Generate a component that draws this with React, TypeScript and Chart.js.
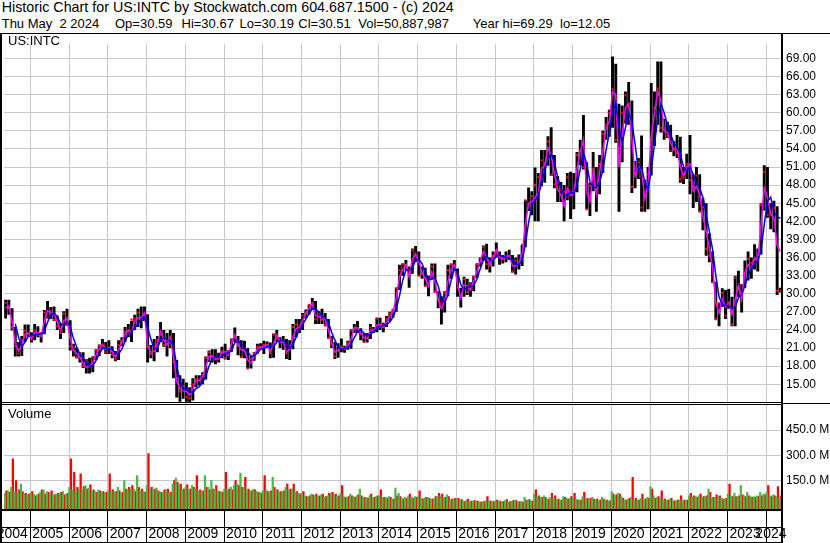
import React, { useEffect, useRef } from 'react';
import { Chart, registerables } from 'chart.js';

Chart.register(...registerables);

const FONT = '"Liberation Sans", Arial, Helvetica, sans-serif';
const GRID = '#c8c8c8';

// Monthly categories, May 2004 .. May 2024
const firstYear = 2004;
const firstMonth = 5;
const monthCount = 241;
const months: string[] = [];
for (let k = 0; k < monthCount; k++) {
  const t = firstMonth - 1 + k;
  const y = firstYear + Math.floor(t / 12);
  const m = (t % 12) + 1;
  months.push(`${y}-${String(m).padStart(2, '0')}`);
}

// Monthly low / high of the daily bars (USD)
const lows = [
  25.9, 26.5, 23.9, 19.6, 19.6, 19.7, 22.0, 22.9,
  21.9, 22.3, 22.8, 21.9, 23.3, 25.9, 25.8, 25.5, 24.0, 22.5, 23.5, 24.7,
  20.6, 19.6, 19.3, 18.6, 17.7, 16.8, 16.8, 17.0, 19.0, 19.7, 20.8, 20.0,
  20.0, 19.3, 18.8, 19.0, 21.3, 22.0, 22.8, 22.0, 24.0, 24.5, 24.3, 25.5,
  18.6, 19.3, 18.8, 20.3, 22.0, 21.2, 19.6, 21.0, 16.0, 12.8, 12.1, 12.6,
  12.1, 12.05, 12.3, 14.5, 14.8, 15.0, 15.8, 18.7, 18.6, 18.3, 18.6, 19.3,
  19.1, 19.0, 20.4, 22.0, 19.8, 19.4, 19.3, 17.6, 17.6, 18.9, 20.1, 20.9,
  20.0, 21.0, 19.3, 19.4, 22.0, 21.0, 20.7, 19.2, 19.0, 20.8, 22.8, 23.5,
  24.0, 25.9, 26.5, 27.3, 25.0, 25.0, 25.0, 24.6, 22.6, 21.0, 19.2, 19.4,
  20.3, 20.2, 20.7, 20.9, 23.5, 23.5, 22.3, 21.9, 21.9, 22.5, 23.5, 23.6,
  24.0, 23.6, 24.5, 25.4, 26.0, 27.0, 30.6, 33.0, 33.9, 31.0, 33.3, 35.3,
  33.0, 32.5, 31.2, 29.6, 32.3, 30.2, 27.6, 24.9, 26.9, 29.6, 32.5, 33.9,
  29.5, 27.7, 29.5, 29.8, 29.5, 30.4, 32.6, 34.5, 35.5, 34.0, 33.5, 34.5,
  36.0, 34.8, 35.0, 35.2, 35.6, 33.5, 33.2, 34.0, 34.6, 37.7, 43.7, 43.0,
  42.0, 42.0, 47.8, 48.4, 51.2, 49.5, 47.5, 45.2, 45.2, 42.0, 45.5, 42.4,
  44.0, 46.8, 51.3, 50.6, 44.0, 42.9, 47.0, 43.6, 46.5, 50.0, 55.5, 56.0,
  57.5, 55.0, 43.6, 51.8, 58.2, 58.0, 46.7, 47.5, 49.0, 43.6, 43.6, 44.0,
  49.6, 54.5, 58.0, 56.7, 55.5, 55.8, 53.5, 52.8, 52.5, 48.4, 48.2, 49.0,
  46.5, 44.2, 45.2, 43.6, 40.5, 36.3, 35.2, 31.8, 25.7, 24.6, 27.8, 25.8,
  27.5, 24.6, 24.6, 29.5, 26.9, 31.0, 32.2, 32.5, 34.0, 33.7, 36.5, 43.8,
  42.6, 40.7, 40.2, 29.8, 30.2,
];
const highs = [
  29.0, 29.0, 27.6, 24.5, 22.0, 23.0, 24.9, 24.9,
  23.6, 25.0, 24.6, 23.6, 27.3, 28.8, 27.8, 27.9, 26.4, 25.1, 27.1, 27.5,
  25.6, 21.7, 21.1, 20.3, 20.3, 19.2, 19.4, 19.6, 20.8, 21.6, 22.5, 22.0,
  22.3, 21.3, 20.5, 22.3, 22.8, 24.5, 25.0, 25.5, 26.5, 27.5, 27.9, 27.9,
  26.6, 21.5, 22.5, 23.0, 25.3, 24.0, 23.5, 24.0, 23.5, 19.0, 16.5, 15.9,
  15.3, 14.5, 16.0, 16.5, 16.5, 17.0, 19.6, 20.6, 20.8, 20.8, 20.2, 21.2,
  21.7, 20.6, 22.6, 24.4, 23.0, 22.3, 22.2, 21.0, 19.7, 20.3, 21.7, 21.8,
  22.2, 22.1, 21.9, 23.4, 24.0, 22.8, 23.0, 22.5, 22.3, 25.0, 25.8, 25.8,
  26.8, 27.4, 28.2, 29.3, 28.8, 27.1, 27.5, 26.8, 25.8, 23.0, 22.0, 21.8,
  22.6, 21.4, 22.2, 24.1, 25.0, 25.5, 24.3, 23.5, 23.5, 25.0, 24.5, 26.0,
  26.0, 25.2, 26.3, 27.0, 27.5, 31.0, 34.8, 35.0, 35.6, 34.5, 37.5, 37.9,
  37.0, 34.5, 34.3, 33.0, 35.0, 35.0, 30.4, 29.6, 30.4, 34.8, 35.0, 35.6,
  34.2, 31.0, 32.8, 32.5, 31.9, 33.0, 35.0, 36.0, 38.0, 38.3, 36.0, 37.0,
  38.5, 37.0, 36.4, 37.0, 37.3, 36.4, 36.0, 36.5, 38.1, 45.5, 47.6, 47.0,
  50.9, 50.0, 53.8, 53.8, 56.1, 57.6, 53.0, 49.5, 48.5, 48.0, 50.0, 50.2,
  50.0, 53.5, 55.5, 59.6, 51.8, 48.4, 53.5, 51.0, 53.0, 57.0, 59.3, 60.5,
  69.3, 68.1, 61.5, 61.2, 63.5, 65.1, 62.0, 52.0, 52.5, 56.2, 48.9, 51.0,
  64.9, 63.5, 68.5, 68.5, 59.0, 58.5, 58.0, 55.3, 56.3, 56.0, 51.0, 53.2,
  56.3, 49.8, 51.0, 49.8, 45.8, 45.0, 40.0, 37.0, 32.0, 28.5, 30.9, 30.6,
  30.8, 29.5, 33.0, 33.8, 31.6, 35.5, 37.0, 36.0, 38.2, 37.5, 45.0, 51.3,
  51.0, 45.0, 45.4, 44.5, 31.0,
];
const closes = [
  28.5, 27.6, 24.4, 21.3, 20.1, 22.3, 23.9, 23.4,
  22.4, 24.0, 23.2, 23.5, 26.9, 26.0, 27.1, 25.7, 24.6, 23.5, 26.7, 25.0,
  21.3, 20.6, 19.5, 20.0, 18.0, 19.0, 18.0, 19.5, 20.6, 21.3, 21.4, 20.3,
  21.0, 19.9, 19.1, 21.5, 22.2, 23.7, 23.6, 25.7, 25.9, 26.9, 26.0, 26.7,
  21.2, 20.0, 21.2, 22.3, 23.2, 21.5, 22.2, 22.9, 18.7, 16.0, 13.8, 14.7,
  12.9, 12.7, 15.0, 15.8, 15.7, 16.5, 19.3, 20.3, 19.6, 19.1, 19.2, 20.4,
  19.4, 20.5, 22.3, 22.8, 21.4, 19.5, 20.6, 17.6, 19.2, 20.1, 21.2, 21.0,
  21.5, 21.5, 20.2, 23.2, 22.5, 22.2, 22.3, 20.1, 21.3, 24.5, 24.9, 24.2,
  26.4, 26.9, 28.1, 28.4, 25.8, 26.7, 25.7, 24.8, 22.7, 21.6, 19.6, 20.6,
  21.0, 20.8, 21.8, 23.9, 24.3, 24.2, 23.3, 22.0, 22.9, 24.4, 23.8, 25.9,
  24.5, 24.8, 25.8, 26.7, 27.3, 30.9, 33.9, 34.9, 34.8, 34.0, 37.2, 36.3,
  33.0, 33.3, 31.3, 32.5, 34.5, 30.4, 29.0, 28.5, 30.1, 33.9, 34.8, 34.5,
  31.0, 29.6, 32.4, 30.3, 31.6, 32.8, 34.9, 35.9, 37.7, 34.9, 34.7, 36.3,
  36.8, 36.2, 36.1, 36.2, 36.1, 33.7, 35.5, 35.1, 38.1, 45.5, 44.8, 46.2,
  48.0, 49.3, 52.1, 51.6, 55.2, 49.7, 48.1, 48.4, 47.3, 46.9, 49.3, 46.9,
  47.1, 53.0, 53.7, 51.0, 44.0, 47.9, 50.6, 47.4, 51.5, 56.5, 58.0, 59.9,
  63.9, 55.5, 54.1, 60.0, 62.9, 59.8, 47.7, 50.9, 51.8, 44.3, 48.4, 49.8,
  55.5, 60.8, 64.0, 57.5, 57.1, 56.1, 53.7, 54.1, 53.3, 49.0, 49.2, 51.5,
  48.8, 47.7, 49.6, 43.6, 44.4, 37.4, 36.3, 31.9, 25.8, 28.4, 30.1, 26.4,
  28.3, 24.9, 32.7, 31.1, 31.4, 33.4, 35.8, 35.1, 35.6, 36.5, 44.7, 50.2,
  43.1, 43.0, 44.2, 30.5, 30.5,
];
// 20-day (magenta) and 50-day (blue) moving averages
const ma20 = [
  27.6, 28.0, 25.5, 21.8, 20.5, 21.5, 23.3, 23.5,
  22.6, 23.6, 23.6, 22.9, 25.5, 27.2, 26.8, 26.7, 25.3, 23.9, 25.5, 26.0,
  22.5, 20.7, 20.1, 19.5, 18.5, 17.8, 18.0, 18.6, 19.9, 20.8, 21.6, 20.8,
  21.1, 20.4, 19.5, 20.6, 22.0, 23.3, 24.0, 23.6, 25.4, 26.0, 26.0, 26.8,
  21.3, 20.3, 20.4, 21.8, 23.8, 22.3, 21.5, 22.6, 19.5, 15.5, 14.2, 13.9,
  13.8, 13.2, 14.3, 15.6, 15.6, 16.2, 18.0, 19.6, 19.7, 19.2, 19.3, 20.2,
  20.4, 19.8, 21.8, 23.2, 21.5, 20.7, 20.6, 19.0, 18.5, 19.6, 21.0, 21.2,
  21.2, 21.6, 20.4, 21.6, 23.2, 22.0, 22.0, 20.3, 20.7, 22.8, 24.2, 24.5,
  25.5, 26.7, 27.6, 28.3, 26.4, 26.2, 26.2, 25.7, 24.0, 21.8, 20.3, 20.6,
  21.2, 20.9, 21.4, 22.5, 24.3, 24.4, 23.6, 22.7, 22.6, 24.0, 24.0, 24.8,
  25.0, 24.4, 25.3, 26.2, 27.0, 29.3, 32.8, 34.0, 34.8, 32.8, 35.7, 36.6,
  35.3, 33.5, 32.5, 31.3, 33.6, 32.0, 29.0, 27.5, 28.7, 32.0, 34.1, 34.8,
  31.5, 29.3, 31.5, 31.3, 30.6, 32.0, 33.8, 35.4, 37.0, 36.0, 34.7, 36.0,
  37.3, 36.0, 35.7, 36.1, 36.3, 34.6, 34.6, 35.2, 36.5, 41.5, 45.0, 45.2,
  46.0, 46.5, 50.8, 51.2, 54.2, 53.0, 49.8, 47.3, 46.4, 44.5, 47.5, 46.3,
  46.6, 50.7, 53.5, 55.5, 46.8, 45.3, 50.3, 46.5, 50.2, 53.6, 57.5, 58.5,
  63.5, 63.0, 51.0, 56.5, 60.8, 61.5, 55.5, 49.5, 51.0, 50.5, 45.8, 48.2,
  56.0, 60.0, 63.5, 62.0, 57.0, 56.7, 55.0, 53.8, 54.0, 51.0, 49.5, 51.0,
  51.5, 47.0, 47.8, 46.5, 42.8, 40.3, 37.5, 34.3, 28.5, 26.8, 29.2, 27.8,
  28.6, 26.6, 29.0, 31.3, 29.0, 33.5, 34.8, 34.2, 36.0, 35.5, 41.5, 47.5,
  46.0, 43.3, 42.5, 38.0, 37.0,
];
const ma50 = [
  null, null, null, 25.0, 22.8, 21.2, 22.0, 22.9,
  23.1, 23.2, 23.3, 23.3, 23.8, 25.3, 26.5, 26.8, 26.2, 25.1, 24.8, 25.3,
  24.6, 22.6, 21.2, 20.0, 19.4, 18.6, 18.0, 18.1, 18.9, 20.0, 20.9, 21.0,
  20.9, 20.8, 20.2, 20.0, 20.8, 22.1, 23.3, 23.7, 24.3, 25.0, 25.8, 26.2,
  24.4, 22.5, 20.9, 21.0, 22.2, 22.8, 22.4, 22.2, 21.4, 18.0, 15.6, 14.3,
  14.2, 13.8, 13.6, 14.3, 14.6, 15.3, 16.3, 18.0, 19.2, 19.5, 19.4, 19.6,
  20.1, 20.1, 20.6, 21.9, 22.2, 21.7, 21.0, 20.3, 19.7, 19.7, 20.2, 20.8,
  20.9, 21.3, 21.2, 21.2, 22.0, 22.2, 22.3, 21.6, 21.0, 21.6, 22.8, 24.0,
  24.9, 25.8, 26.7, 27.5, 27.5, 27.0, 26.3, 26.0, 25.2, 23.6, 22.3, 21.2,
  20.8, 20.9, 21.1, 21.6, 22.7, 23.7, 24.0, 23.5, 23.0, 23.3, 23.7, 24.2,
  24.6, 24.7, 24.9, 25.3, 26.1, 27.5, 29.6, 32.2, 33.9, 34.0, 34.3, 35.5,
  35.7, 35.0, 33.6, 32.4, 32.5, 32.6, 31.3, 29.3, 28.5, 29.8, 32.2, 34.1,
  33.6, 31.5, 30.7, 31.1, 31.1, 31.4, 32.4, 34.1, 35.5, 36.3, 35.6, 35.5,
  36.2, 36.4, 36.2, 36.0, 36.0, 35.6, 34.9, 34.9, 35.5, 38.2, 41.8, 44.6,
  45.5, 46.2, 48.3, 50.3, 52.3, 53.2, 51.8, 49.3, 47.6, 46.2, 46.4, 46.8,
  46.6, 48.0, 50.6, 53.4, 51.5, 48.6, 47.6, 47.6, 48.5, 50.4, 53.8, 56.6,
  60.0, 61.7, 57.5, 55.0, 57.5, 60.0, 58.5, 54.8, 50.5, 51.0, 48.5, 47.3,
  50.5, 54.8, 59.0, 61.5, 60.0, 58.0, 56.4, 55.0, 54.3, 53.2, 51.0, 50.4,
  51.0, 49.8, 48.2, 47.5, 46.0, 43.2, 40.3, 37.3, 33.0, 29.5, 28.2, 28.0,
  28.1, 27.6, 27.8, 29.3, 29.8, 31.3, 33.0, 34.2, 35.0, 35.4, 37.2, 41.5,
  45.3, 46.0, 43.5, 42.8, 42.5,
];
// Volume (millions of shares) on up days (green) and down days (red)
const volUp = [
  75, 90, 110, 85, 80, 130, 70, 65,
  75, 70, 65, 80, 95, 85, 75, 65, 70, 75, 85, 70,
  110, 95, 90, 100, 95, 120, 105, 90, 85, 95, 80, 75,
  90, 85, 80, 110, 75, 150, 95, 100, 100, 180, 90, 85,
  120, 100, 95, 105, 85, 80, 95, 75, 130, 165, 120, 95,
  110, 95, 120, 100, 90, 85, 180, 110, 150, 100, 90, 85,
  100, 95, 110, 120, 130, 195, 110, 95, 90, 100, 85, 80,
  90, 95, 85, 170, 100, 80, 85, 110, 95, 100, 80, 75,
  75, 60, 55, 70, 60, 55, 65, 50, 60, 70, 65, 55,
  75, 55, 50, 70, 55, 60, 100, 45, 50, 60, 45, 55,
  60, 45, 50, 55, 40, 105, 75, 45, 50, 60, 50, 55,
  55, 45, 45, 50, 40, 45, 55, 60, 45, 65, 35, 40,
  40, 35, 28, 35, 25, 28, 30, 22, 25, 30, 32, 25,
  30, 25, 22, 32, 22, 28, 35, 22, 25, 50, 35, 30,
  70, 55, 45, 60, 40, 50, 45, 35, 35, 55, 45, 45,
  50, 40, 35, 55, 35, 40, 50, 35, 30, 50, 30, 30,
  85, 60, 75, 55, 35, 40, 50, 35, 35, 45, 40, 50,
  115, 60, 50, 45, 35, 30, 40, 30, 30, 35, 30, 35,
  60, 50, 55, 60, 50, 55, 100, 45, 50, 55, 45, 40,
  70, 60, 75, 55, 120, 60, 80, 55, 55, 60, 80, 70,
  80, 60, 65, 55, 45,
];
const volDown = [
  90, 80, 280, 150, 95, 85, 75, 70,
  85, 60, 70, 95, 70, 80, 90, 65, 75, 80, 65, 75,
  280, 200, 110, 190, 115, 100, 125, 95, 80, 90, 85, 80,
  190, 95, 85, 90, 80, 100, 110, 120, 85, 110, 100, 80,
  310, 110, 100, 90, 80, 95, 100, 80, 150, 140, 130, 100,
  125, 100, 110, 180, 95, 90, 110, 95, 100, 120, 85, 80,
  200, 100, 95, 150, 120, 110, 170, 100, 90, 95, 80, 75,
  180, 85, 90, 110, 95, 85, 90, 130, 100, 130, 85, 70,
  85, 55, 60, 65, 70, 60, 70, 55, 75, 80, 70, 60,
  120, 50, 55, 60, 50, 65, 60, 50, 45, 70, 50, 60,
  95, 50, 45, 50, 40, 60, 55, 40, 45, 70, 45, 50,
  90, 40, 50, 45, 40, 55, 75, 70, 50, 55, 40, 45,
  45, 38, 25, 40, 28, 32, 28, 22, 25, 55, 28, 25,
  35, 28, 25, 38, 25, 32, 32, 25, 22, 35, 38, 28,
  95, 60, 50, 50, 40, 75, 60, 40, 35, 50, 40, 55,
  75, 35, 35, 80, 45, 45, 40, 40, 35, 40, 35, 30,
  70, 65, 70, 45, 35, 45, 170, 45, 35, 70, 40, 45,
  100, 45, 55, 90, 40, 35, 45, 30, 35, 60, 35, 35,
  75, 60, 50, 70, 55, 60, 80, 50, 65, 60, 40, 45,
  130, 55, 55, 60, 65, 55, 60, 50, 50, 55, 60, 65,
  120, 55, 60, 115, 60,
];

const priceTicks = [15, 18, 21, 24, 27, 30, 33, 36, 39, 42, 45, 48, 51, 54, 57, 60, 63, 66, 69];
const volumeTicks = [150, 300, 450];
const PRICE_MIN = 11.84;
const PRICE_MAX = 71.35;
const VOL_MIN = -18.6;
const VOL_MAX = 609.3;

const headerLine1 = 'Historic Chart for US:INTC by Stockwatch.com 604.687.1500 - (c) 2024';
const headerFields: [string, number][] = [
  ['Thu May  2 2024', 1.7],
  ['Op=30.59', 115],
  ['Hi=30.67', 181.5],
  ['Lo=30.19', 239.5],
  ['Cl=30.51', 298.3],
  ['Vol=50,887,987', 358.3],
  ['Year hi=69.29  lo=12.05', 472.7],
];

const isJan = (i: number) => months[i] !== undefined && months[i].endsWith('-01');
const yearLabel = (i: number) => {
  const s = months[i];
  if (!s) return '';
  const y = Number(s.slice(0, 4));
  const m = Number(s.slice(5, 7));
  if (y === 2004) return m === 8 ? '2004' : '';
  if (y === 2024) return m === 3 ? '2024' : '';
  return m === 7 ? String(y) : '';
};

// x pixel of the left boundary of month category i, from the chart's own x scale
const boundaryPixel = (xs: any, i: number) => {
  const p0 = xs.getPixelForValue(0);
  const p1 = xs.getPixelForValue(1);
  return xs.getPixelForValue(i) - (p1 - p0) / 2;
};

const yearGridPlugin = {
  id: 'yearGrid',
  beforeDatasetsDraw(chart: any) {
    const c = chart.ctx;
    const a = chart.chartArea;
    const xs = chart.scales.x;
    c.save();
    c.fillStyle = GRID;
    for (let i = 0; i < months.length; i++) {
      if (!isJan(i)) continue;
      const x = Math.round(boundaryPixel(xs, i));
      c.fillRect(x, a.top, 1, a.bottom - a.top);
    }
    c.restore();
  },
};

const framePlugin = {
  id: 'frame',
  afterDraw(chart: any) {
    const c = chart.ctx;
    const a = chart.chartArea;
    const xs = chart.scales.x;
    const W = chart.width;
    const H = chart.height;
    const yb = Math.round(chart.scales.y.bottom);
    const ab = Math.round(a.bottom);
    c.save();
    c.fillStyle = '#000';
    for (let i = 0; i < months.length; i++) {
      if (!isJan(i)) continue;
      const x = Math.round(boundaryPixel(xs, i));
      c.fillRect(x, ab, 1, H - ab);
    }
    c.fillRect(0, 0, W, 1);
    c.fillRect(0, 0, 2, H);
    c.fillRect(a.right - 1, 0, 2, H);
    c.fillRect(0, yb - 1, a.right, 1);
    c.fillRect(0, yb + 1, a.right, 1);
    c.fillRect(a.right, yb, W - a.right, 1);
    c.fillRect(0, ab, a.right + 1, 2);
    c.fillRect(0, ab + 18, a.right + 1, 1);
    c.fillRect(0, H - 1, a.right + 1, 1);
    c.restore();
  },
};

export default function App() {
  const ref = useRef<HTMLCanvasElement>(null);

  useEffect(() => {
    const canvas = ref.current;
    if (!canvas) return;
    Chart.defaults.font.family = FONT;
    const chart = new Chart(canvas, {
      type: 'bar',
      data: {
        labels: months,
        datasets: [
          {
            type: 'line',
            label: 'MA50',
            data: ma50,
            yAxisID: 'y',
            borderColor: '#0000ff',
            borderWidth: 1.5,
            pointRadius: 0,
            tension: 0,
            order: 0,
          } as any,
          {
            type: 'line',
            label: 'MA20',
            data: ma20,
            yAxisID: 'y',
            borderColor: '#ff00ff',
            borderWidth: 1.5,
            pointRadius: 0,
            tension: 0,
            order: 1,
          } as any,
          {
            type: 'line',
            label: 'Close',
            data: closes,
            yAxisID: 'y',
            showLine: false,
            pointStyle: 'rect',
            pointRadius: 1.5,
            pointBorderWidth: 0,
            pointBackgroundColor: '#ff0000',
            order: 2,
          } as any,
          {
            type: 'bar',
            label: 'Range',
            data: lows.map((l, i) => [l, highs[i]]),
            yAxisID: 'y',
            backgroundColor: '#000000',
            grouped: false,
            barPercentage: 0.9,
            categoryPercentage: 1,
            order: 3,
          } as any,
          {
            type: 'bar',
            label: 'Volume up',
            data: volUp,
            yAxisID: 'yv',
            backgroundColor: '#4cb848',
            base: VOL_MIN,
            barPercentage: 1,
            categoryPercentage: 1,
            order: 4,
          } as any,
          {
            type: 'bar',
            label: 'Volume down',
            data: volDown,
            yAxisID: 'yv',
            backgroundColor: '#ff0000',
            base: VOL_MIN,
            barPercentage: 1,
            categoryPercentage: 1,
            order: 4,
          } as any,
        ],
      },
      options: {
        responsive: false,
        animation: false,
        devicePixelRatio: 1,
        events: [],
        layout: { padding: { top: 1, left: 2, right: 0, bottom: 0 } },
        plugins: { legend: { display: false }, tooltip: { enabled: false } },
        scales: {
          x: {
            type: 'category',
            offset: true,
            grid: { display: false, drawTicks: true, tickLength: 33 },
            border: { display: false },
            ticks: {
              autoSkip: false,
              maxRotation: 0,
              minRotation: 0,
              padding: -16,
              labelOffset: -3,
              color: '#000',
              font: { size: 14, family: FONT },
              callback: (_v: any, i: number) => yearLabel(i),
            },
            afterFit: (s: any) => {
              s.height = 34;
            },
          },
          y: {
            type: 'linear',
            position: 'right',
            stack: 'main',
            stackWeight: 367,
            min: PRICE_MIN,
            max: PRICE_MAX,
            afterBuildTicks: (s: any) => {
              s.ticks = priceTicks.map((v) => ({ value: v }));
            },
            afterFit: (s: any) => {
              s.width = 48;
            },
            grid: { color: GRID, lineWidth: 1, drawTicks: false },
            border: { display: false },
            ticks: {
              autoSkip: false,
              padding: 4,
              color: '#000',
              font: { size: 12, family: FONT },
              callback: (v: any) => Number(v).toFixed(2),
            },
          },
          yv: {
            type: 'linear',
            position: 'right',
            stack: 'main',
            stackWeight: 108,
            min: VOL_MIN,
            max: VOL_MAX,
            afterBuildTicks: (s: any) => {
              s.ticks = volumeTicks.map((v) => ({ value: v }));
            },
            afterFit: (s: any) => {
              s.width = 48;
            },
            grid: { color: GRID, lineWidth: 1, drawTicks: false },
            border: { display: false },
            ticks: {
              autoSkip: false,
              padding: 4,
              color: '#000',
              font: { size: 12, family: FONT },
              callback: (v: any) => Number(v).toFixed(1) + ' M',
            },
          },
        },
      } as any,
      plugins: [yearGridPlugin, framePlugin],
    });
    return () => chart.destroy();
  }, []);

  const textBase: React.CSSProperties = {
    position: 'absolute',
    fontFamily: FONT,
    color: '#000',
    whiteSpace: 'pre',
    margin: 0,
  };

  return (
    <div
      style={{
        position: 'fixed',
        left: 0,
        top: 0,
        width: 830,
        height: 543,
        background: '#fff',
        overflow: 'hidden',
      }}
    >
      <div style={{ ...textBase, left: 1.7, top: 0.2, fontSize: 14.3, lineHeight: '14.3px' }}>{headerLine1}</div>
      {headerFields.map(([t, x]) => (
        <div key={t} style={{ ...textBase, left: x, top: 17.3, fontSize: 13, lineHeight: '13px' }}>
          {t}
        </div>
      ))}
      <canvas
        ref={ref}
        width={830}
        height={510}
        style={{ position: 'absolute', left: 0, top: 33, width: 830, height: 510, display: 'block' }}
      />
      <div style={{ ...textBase, left: 8, top: 34.3, fontSize: 13, lineHeight: '13px' }}>US:INTC</div>
      <div style={{ ...textBase, left: 8, top: 407.3, fontSize: 13, lineHeight: '13px' }}>Volume</div>
    </div>
  );
}
